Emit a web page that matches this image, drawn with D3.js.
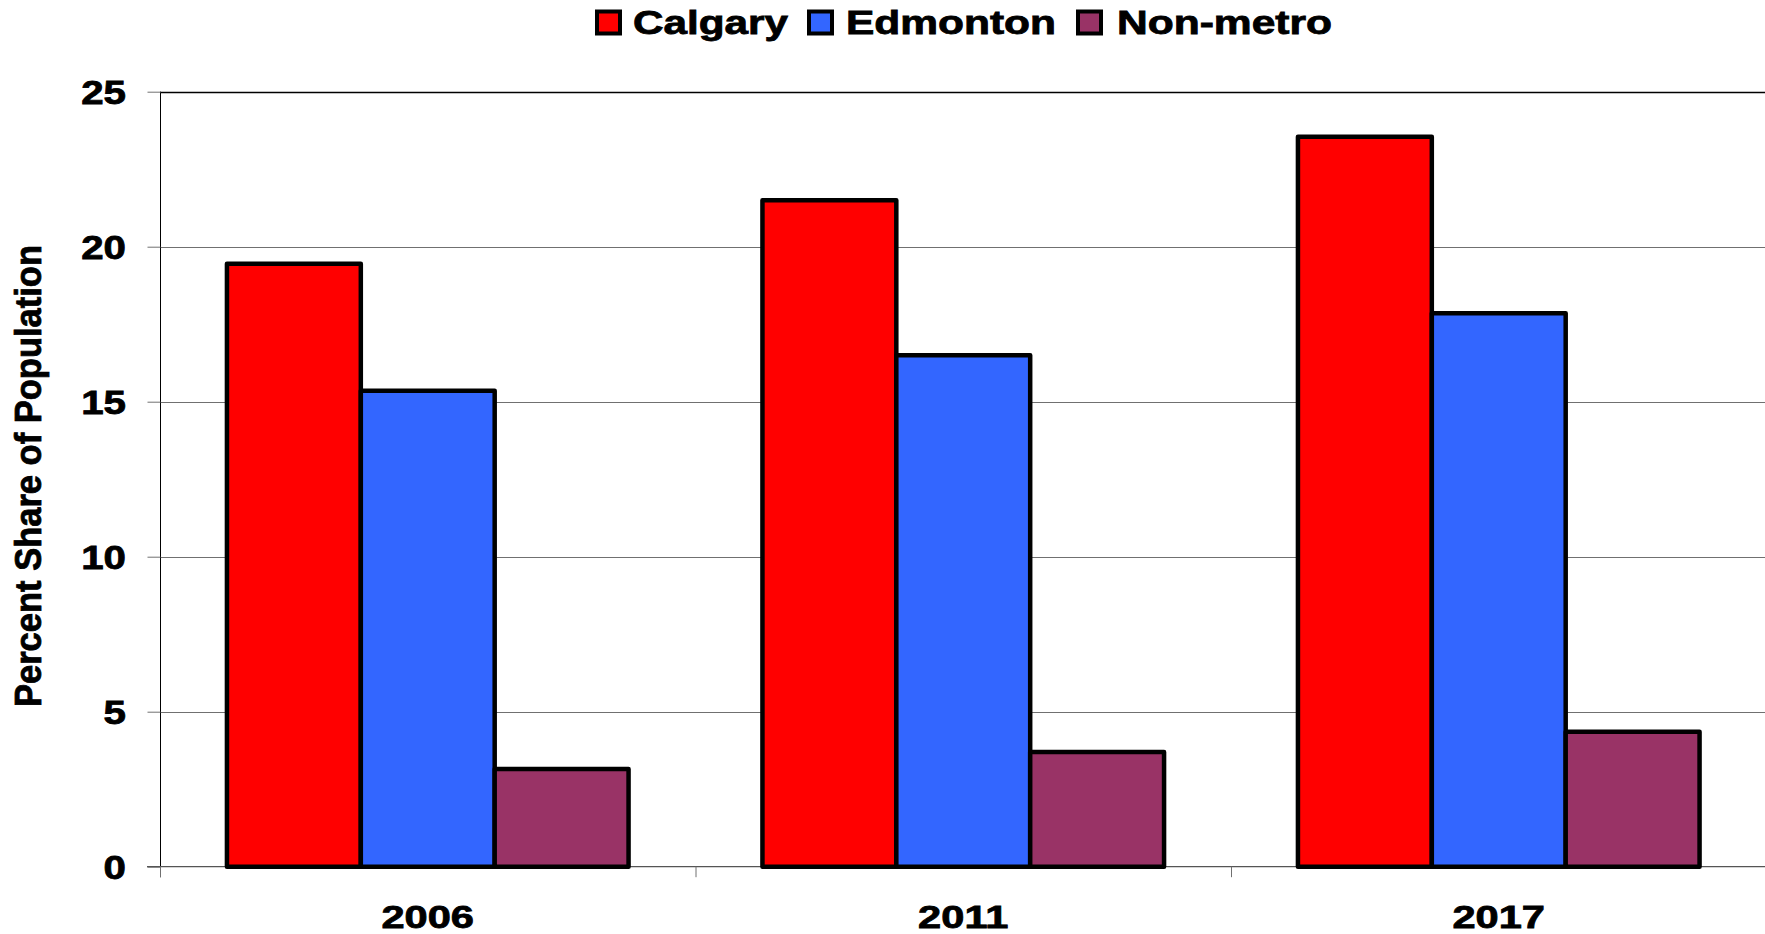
<!DOCTYPE html>
<html>
<head>
<meta charset="utf-8">
<script src="https://cdn.jsdelivr.net/npm/d3@7"></script>
<style>
  html, body { margin: 0; padding: 0; background: #fff; }
  svg { display: block; }
  text { font-family: "Liberation Sans", Arial, sans-serif; font-weight: bold; fill: #000; stroke: #000; stroke-width: 0.8px; }
</style>
</head>
<body>
<svg id="chart" width="1765" height="934"></svg>
<script>
const years = ["2006", "2011", "2017"];
const seriesNames = ["Calgary", "Edmonton", "Non-metro"];
const calgary = [19.45, 21.5, 23.55];
const edmonton = [15.35, 16.5, 17.85];
const nonMetro = [3.15, 3.7, 4.35];
const yTicks = [0, 5, 10, 15, 20, 25];
const yLabel = "Percent Share of Population";
const colors = ["#FF0000", "#3366FF", "#993366"];

const seriesValues = [calgary, edmonton, nonMetro];

const svg = d3.select("#chart");
const W = 1765, H = 934;
const plotLeft = 160, plotRight = 1766.5, plotTop = 91.7, plotBottom = 866.7;

const x = d3.scaleBand().domain(years).range([plotLeft, plotRight]).paddingInner(0).paddingOuter(0);
const xi = d3.scaleBand().domain(seriesNames).range([0, x.bandwidth()]).paddingInner(0).paddingOuter(0.5);
const y = d3.scaleLinear().domain([0, 25]).range([plotBottom, plotTop]);

// gridlines
svg.append("g").selectAll("line").data(yTicks.filter(t => t > 0)).join("line")
  .attr("x1", plotLeft).attr("x2", W)
  .attr("y1", d => Math.round(y(d)) + 0.5).attr("y2", d => Math.round(y(d)) + 0.5)
  .attr("stroke", d => d === 25 ? "#000" : "#707070").attr("stroke-width", d => d === 25 ? 1.5 : 1);

// y axis via d3
const yAxis = d3.axisLeft(y).tickValues(yTicks).tickSize(13).tickFormat("");
const gy = svg.append("g").attr("transform", `translate(${plotLeft + 0.5},0)`).call(yAxis);
gy.select(".domain").attr("stroke", "#000").attr("d", `M0,${plotTop}V${plotBottom + 10.5}`);
gy.selectAll(".tick line").attr("stroke", "#707070");

function stretch(sel, factor, anchor) {
  sel.each(function() {
    const nat = this.getComputedTextLength();
    const target = nat * factor;
    const t = d3.select(this);
    t.attr("textLength", target).attr("lengthAdjust", "spacingAndGlyphs");
    const x0 = +t.attr("x");
    if (anchor === "end") t.attr("x", x0 - target);
    else if (anchor === "middle") t.attr("x", x0 - target / 2);
  });
}

// y tick labels
svg.append("g").selectAll("text").data(yTicks).join("text")
  .attr("x", 126).attr("y", d => y(d) + 12)
  .style("font-size", "33px")
  .text(d => d)
  .call(stretch, 1.22, "end");

// x axis
const xAxis = d3.axisBottom(x).tickSize(10.5).tickFormat("");
const gx = svg.append("g").attr("transform", `translate(0,${plotBottom})`).call(xAxis);
gx.select(".domain").attr("stroke", "#555").attr("stroke-width", 1.2).attr("d", `M${plotLeft - 13},0H${W}`);
gx.selectAll(".tick").attr("transform", d => `translate(${x(d) + 0.5},0)`);
gx.selectAll(".tick line").attr("stroke", "#707070");

svg.append("g").selectAll("text").data(years).join("text")
  .attr("x", d => x(d) + x.bandwidth() / 2).attr("y", 928)
  .style("font-size", "32px")
  .text(d => d)
  .call(stretch, 1.3, "middle");

// bars
const barData = [];
years.forEach((yr, i) => seriesNames.forEach((s, j) => barData.push({ yr, s, j, v: seriesValues[j][i] })));
svg.append("g").selectAll("rect").data(barData).join("rect")
  .attr("x", d => x(d.yr) + xi(d.s))
  .attr("width", xi.bandwidth())
  .attr("y", d => y(d.v))
  .attr("height", d => y(0) - y(d.v))
  .attr("fill", d => colors[d.j])
  .attr("stroke", "#000").attr("stroke-width", 4.5).attr("stroke-linejoin", "round");

// y label
svg.append("text")
  .attr("transform", "translate(41,476) rotate(-90)")
  .attr("x", -231).attr("y", 0)
  .style("font-size", "36px")
  .attr("textLength", 462).attr("lengthAdjust", "spacingAndGlyphs")
  .text(yLabel);

// legend
const legendPos = [
  { sq: 595, sqW: 27, tx: 633, tw: 155 },
  { sq: 807, sqW: 27, tx: 846, tw: 210 },
  { sq: 1076, sqW: 27, tx: 1117, tw: 215 }
];
const lg = svg.append("g");
seriesNames.forEach((s, j) => {
  const p = legendPos[j];
  lg.append("rect").attr("x", p.sq + 2).attr("y", 11.5).attr("width", p.sqW - 4).attr("height", 22)
    .attr("fill", colors[j]).attr("stroke", "#000").attr("stroke-width", 4);
  lg.append("text").attr("x", p.tx).attr("y", 34)
    .style("font-size", "33px")
    .attr("textLength", p.tw).attr("lengthAdjust", "spacingAndGlyphs")
    .text(s);
});
</script>
</body>
</html>
